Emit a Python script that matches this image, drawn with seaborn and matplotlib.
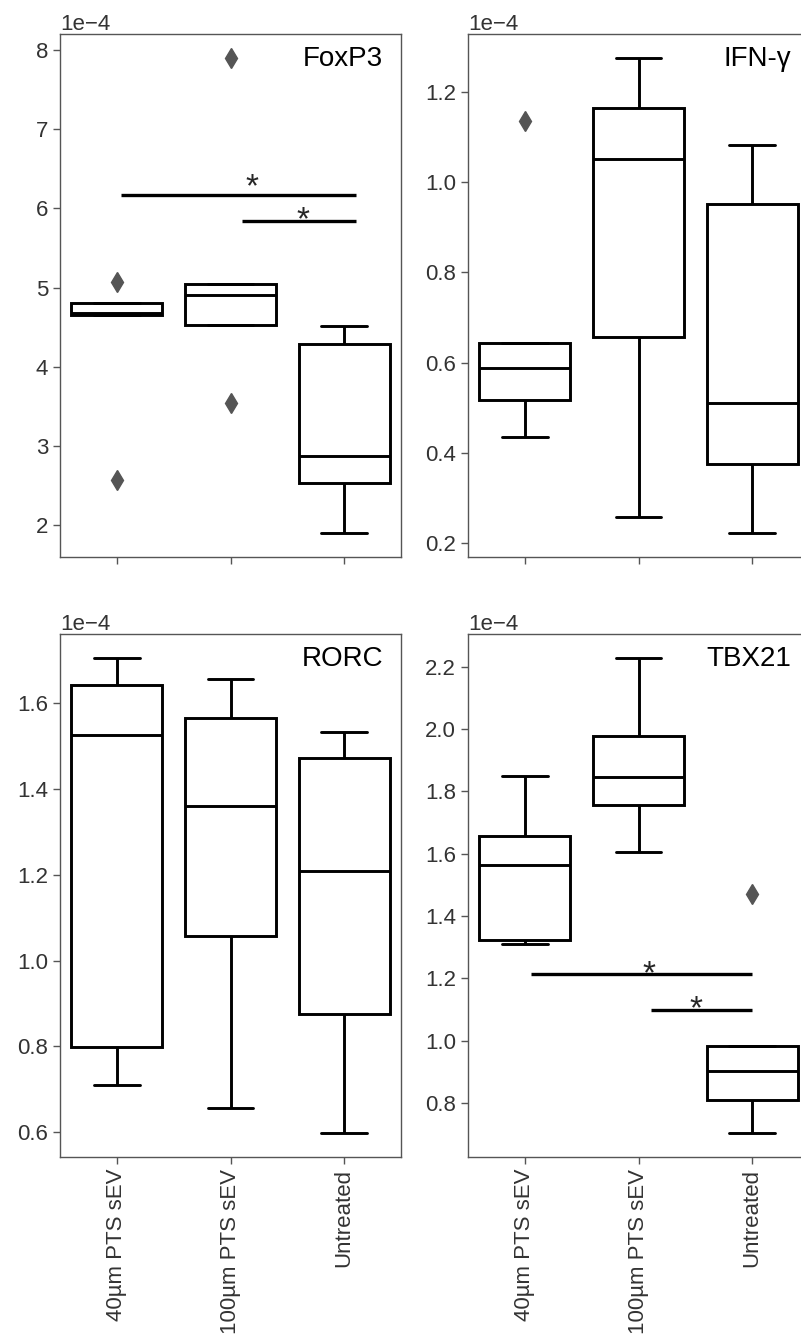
import numpy as np
import pandas as pd
import matplotlib
matplotlib.use('Agg')
import matplotlib.pyplot as plt
from matplotlib.ticker import MultipleLocator
import seaborn as sns

# groups on the x axis
groups = ['40µm PTS sEV', '100µm PTS sEV', 'Untreated']

# relative expression values (units of 1e-4), five samples per group
foxp3_40 = [2.57, 4.66, 4.68, 4.81, 5.07]
foxp3_100 = [3.54, 4.53, 4.90, 5.05, 7.90]
foxp3_un = [1.90, 2.54, 2.87, 4.29, 4.52]

ifng_40 = [0.436, 0.518, 0.589, 0.644, 1.136]
ifng_100 = [0.258, 0.656, 1.051, 1.164, 1.276]
ifng_un = [0.222, 0.376, 0.511, 0.951, 1.082]

rorc_40 = [0.710, 0.798, 1.525, 1.642, 1.705]
rorc_100 = [0.656, 1.057, 1.361, 1.565, 1.656]
rorc_un = [0.598, 0.876, 1.209, 1.471, 1.532]

tbx21_40 = [1.310, 1.324, 1.565, 1.658, 1.848]
tbx21_100 = [1.606, 1.755, 1.845, 1.977, 2.229]
tbx21_un = [0.703, 0.810, 0.903, 0.982, 1.471]

genes = ['FoxP3', 'IFN-γ', 'RORC', 'TBX21']
values = {
    'FoxP3': [foxp3_40, foxp3_100, foxp3_un],
    'IFN-γ': [ifng_40, ifng_100, ifng_un],
    'RORC': [rorc_40, rorc_100, rorc_un],
    'TBX21': [tbx21_40, tbx21_100, tbx21_un],
}
ystep = {'FoxP3': 1.0, 'IFN-γ': 0.2, 'RORC': 0.2, 'TBX21': 0.2}

# significance bars: (x start, x end, y level), star (x, y)  -- y in 1e-4 units
sig_bars = {
    'FoxP3': [(0.04, 2.10, 6.165), (1.10, 2.10, 5.84)],
    'TBX21': [(0.05, 2.00, 1.215), (1.11, 2.00, 1.097)],
}
sig_stars = {
    'FoxP3': [(1.19, 6.26), (1.64, 5.84)],
    'TBX21': [(1.09, 1.21), (1.51, 1.099)],
}

sns.set_theme(style='ticks')
plt.rcParams['font.family'] = ['Liberation Sans', 'DejaVu Sans']

W, H = 801, 1339
fig = plt.figure(figsize=(W / 100, H / 100), dpi=100)
col_x = [60 / W, 468 / W]
row_top = [34, 634]
aw, ah = 341 / W, 523 / H

for i, gene in enumerate(genes):
    r, c = divmod(i, 2)
    ax = fig.add_axes([col_x[c], 1 - (row_top[r] + 523) / H, aw, ah])
    rows = []
    for g, vals in zip(groups, values[gene]):
        for v in vals:
            rows.append({'group': g, 'value': v * 1e-4})
    df = pd.DataFrame(rows)
    sns.boxplot(data=df, x='group', y='value', ax=ax, order=groups,
                color='white', linecolor='black', linewidth=2.1, width=0.8,
                flierprops=dict(marker='d', markersize=10,
                                markerfacecolor='#555555',
                                markeredgecolor='#555555'))
    for (x0, x1, y) in sig_bars.get(gene, []):
        ax.hlines(y * 1e-4, x0, x1, color='black', lw=2.4)
    for (x, y) in sig_stars.get(gene, []):
        ax.text(x, y * 1e-4, '*', ha='center', va='center', fontsize=24)

    ax.set_xlim(-0.5, 2.5)
    ax.yaxis.set_major_locator(MultipleLocator(ystep[gene] * 1e-4))
    ax.ticklabel_format(axis='y', style='sci', scilimits=(0, 0))
    ax.yaxis.get_offset_text().set_fontsize(16)
    ax.yaxis.get_offset_text().set_color('#333333')
    ax.set_xlabel('')
    ax.set_ylabel('')
    for sp in ax.spines.values():
        sp.set_visible(True)
        sp.set_color('#555555')
        sp.set_linewidth(1)
    ax.tick_params(direction='out', length=5, width=1, color='#555555',
                   labelsize=16, labelcolor='#333333')
    if r == 0:
        ax.set_xticklabels([])
    else:
        ax.tick_params(axis='x', labelrotation=90)
    ax.text(0.947, 0.978, gene, transform=ax.transAxes, ha='right', va='top',
            fontsize=20, color='black')

fig.savefig('out.png', dpi=100)
